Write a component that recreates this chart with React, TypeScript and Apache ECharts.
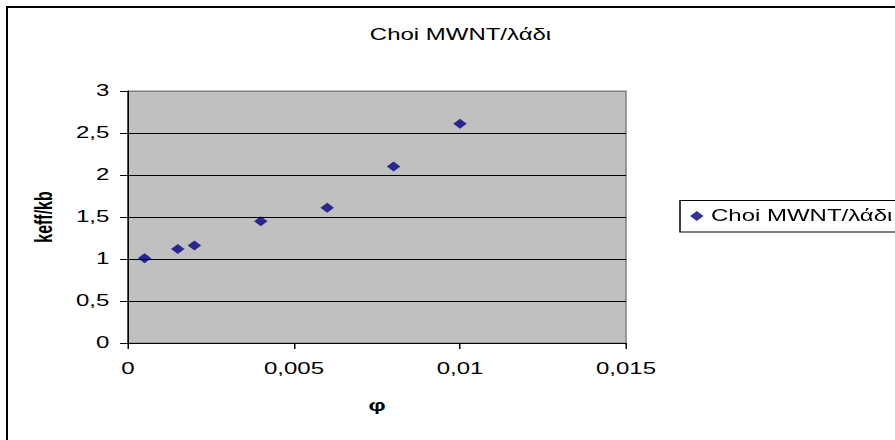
import React, { useEffect, useRef } from 'react';
import * as echarts from 'echarts';

const chartTitle = 'Choi MWNT/λάδι';
const seriesName = 'Choi MWNT/λάδι';
const xAxisName = 'φ';
const yAxisName = 'keff/kb';

const phiValues = [0.0005, 0.0015, 0.002, 0.004, 0.006, 0.008, 0.01];
const kRatioValues = [1.01, 1.12, 1.16, 1.45, 1.61, 2.1, 2.61];

const xTickLabels = ['0', '0,005', '0,01', '0,015'];
const yTickLabels = ['0', '0,5', '1', '1,5', '2', '2,5', '3'];

const SX = 1.5;
const W = 895;
const H = 440;
const innerW = W / SX;
const FONT = '"Liberation Sans", Arial, sans-serif';

export default function App() {
  const ref = useRef<HTMLDivElement>(null);
  useEffect(() => {
    const chart = echarts.init(ref.current!, null, { renderer: 'svg', width: innerW, height: H });
    const plotLeft = 128 / SX;
    const plotRight = 626 / SX;
    const legendLeft = 680 / SX;
    chart.setOption({
      animation: false,
      backgroundColor: '#ffffff',
      textStyle: { fontFamily: FONT },
      title: {
        text: chartTitle,
        left: 460.5 / SX,
        top: 27,
        padding: 0,
        textAlign: 'center',
        textStyle: { fontFamily: FONT, fontSize: 16, fontWeight: 'normal', color: '#000' },
      },
      legend: {
        data: [seriesName],
        left: legendLeft,
        top: 200,
        padding: [8, 0, 8, 6.7],
        borderWidth: 0,
        itemWidth: 9,
        itemHeight: 10,
        icon: 'diamond',
        textStyle: { fontFamily: FONT, fontSize: 16, color: '#000' },
      },
      grid: {
        left: plotLeft,
        right: innerW - plotRight,
        top: 91,
        bottom: H - 343,
        show: true,
        backgroundColor: '#C0C0C0',
        borderColor: '#808080',
        borderWidth: 1,
        containLabel: false,
      },
      xAxis: {
        type: 'value',
        min: 0,
        max: 0.015,
        interval: 0.005,
        name: xAxisName,
        nameLocation: 'middle',
        nameGap: 55,
        nameTextStyle: { fontFamily: FONT, fontSize: 16, fontWeight: 'bold', color: '#000' },
        axisLine: { show: true, lineStyle: { color: '#000', width: 1 } },
        axisTick: { show: true, length: 6, lineStyle: { color: '#000' } },
        axisLabel: {
          margin: 18,
          fontFamily: FONT,
          fontSize: 16,
          color: '#000',
          formatter: (_v: number, i: number) => xTickLabels[i],
        },
        splitLine: { show: false },
      },
      yAxis: {
        type: 'value',
        min: 0,
        max: 3,
        interval: 0.5,
        name: yAxisName,
        nameLocation: 'middle',
        nameGap: 48,
        nameTextStyle: { fontFamily: FONT, fontSize: 16, fontWeight: 'bold', color: '#000' },
        axisLine: { show: true, lineStyle: { color: '#000', width: 1 } },
        axisTick: { show: true, length: 5.3, lineStyle: { color: '#000' } },
        axisLabel: {
          margin: 12.5,
          fontFamily: FONT,
          fontSize: 16,
          color: '#000',
          formatter: (_v: number, i: number) => yTickLabels[i],
        },
        splitLine: {
          show: true,
          lineStyle: {
            color: ['#000', '#000', '#000', '#000', '#000', '#000', '#808080'],
            width: 1,
          },
        },
      },
      graphic: [
        {
          type: 'line',
          shape: { x1: 4.0, y1: 7, x2: innerW + 10, y2: 7 },
          style: { stroke: '#000', lineWidth: 2 },
          silent: true,
        },
        {
          type: 'line',
          shape: { x1: 7 / SX, y1: 6, x2: 7 / SX, y2: H + 10 },
          style: { stroke: '#000', lineWidth: 2 / SX },
          silent: true,
        },
        {
          type: 'rect',
          shape: { x: legendLeft, y: 200.5, width: 200, height: 31.5 },
          style: { fill: 'none', stroke: '#000', lineWidth: 1 },
          silent: true,
        },
      ],
      series: [
        {
          name: seriesName,
          type: 'scatter',
          symbol: 'diamond',
          symbolSize: [9, 10],
          itemStyle: { color: '#000080' },
          data: phiValues.map((x, i) => [x, kRatioValues[i]]),
        },
      ],
    });
    return () => chart.dispose();
  }, []);
  return (
    <div
      style={{
        position: 'absolute',
        left: 0,
        top: 0,
        width: W,
        height: H,
        overflow: 'hidden',
        background: '#fff',
      }}
    >
      <div
        ref={ref}
        style={{ width: innerW, height: H, transform: `scaleX(${SX})`, transformOrigin: '0 0' }}
      />
    </div>
  );
}
